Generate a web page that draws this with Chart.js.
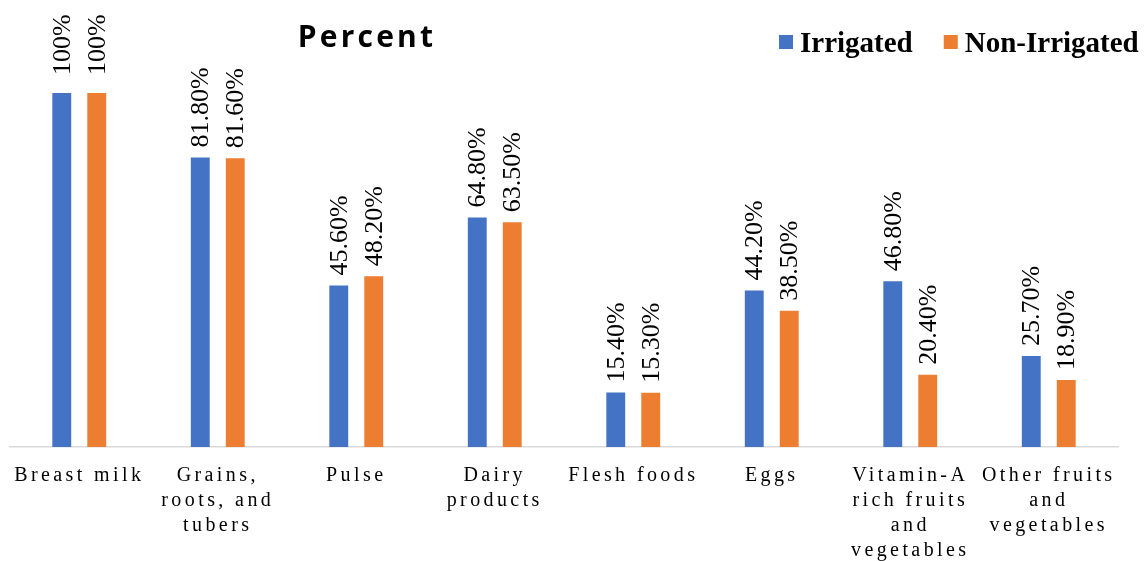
<!DOCTYPE html>
<html>
<head>
<meta charset="utf-8">
<script src="https://cdn.jsdelivr.net/npm/chart.js@4.4.0/dist/chart.umd.min.js"></script>
<style>
  html, body { margin: 0; padding: 0; background: #fff; }
  #wrap { width: 1146px; height: 561px; position: relative; }
</style>
</head>
<body>
<div id="wrap"><canvas id="chart"></canvas></div>
<script>
// food groups on the x axis (lines split as in the picture)
var categories = [
  ['Breast milk'],
  ['Grains,', 'roots, and', 'tubers'],
  ['Pulse'],
  ['Dairy', 'products'],
  ['Flesh foods'],
  ['Eggs'],
  ['Vitamin-A', 'rich fruits', 'and', 'vegetables'],
  ['Other fruits', 'and', 'vegetables'],
];

var irrigated = [100, 81.8, 45.6, 64.8, 15.4, 44.2, 46.8, 25.7];
var nonIrrigated = [100, 81.6, 48.2, 63.5, 15.3, 38.5, 20.4, 18.9];

var seriesNames = ['Irrigated', 'Non-Irrigated'];
var seriesColors = ['#4472C4', '#ED7D31'];

function fmt(v) {
  return v === 100 ? '100%' : v.toFixed(2) + '%';
}

// letter spacing for the axis labels, values + title + legend drawn after
var extras = {
  id: 'extras',
  beforeDraw: function (chart) {
    chart.ctx.letterSpacing = '3.4px';
  },
  beforeDatasetsDraw: function (chart) {
    chart.ctx.letterSpacing = '0px';
  },
  afterDatasetsDraw: function (chart) {
    var ctx = chart.ctx;
    ctx.save();
    ctx.letterSpacing = '0px';
    ctx.font = '26px "Liberation Serif"';
    ctx.fillStyle = '#000';
    ctx.textAlign = 'left';
    ctx.textBaseline = 'middle';
    chart.data.datasets.forEach(function (ds, i) {
      chart.getDatasetMeta(i).data.forEach(function (bar, j) {
        var gap = ds.data[j] === 100 ? 18 : 10;
        ctx.save();
        ctx.translate(bar.x, bar.y - gap);
        ctx.rotate(-Math.PI / 2);
        ctx.fillText(fmt(ds.data[j]), 0, 1);
        ctx.restore();
      });
    });
    ctx.restore();
  },
  afterDraw: function (chart) {
    var ctx = chart.ctx;
    ctx.save();
    // title
    ctx.letterSpacing = '3.2px';
    ctx.font = 'bold 30px "Open Sans"';
    ctx.fillStyle = '#000';
    ctx.textAlign = 'center';
    ctx.textBaseline = 'alphabetic';
    ctx.fillText('Percent', 367, 47);
    // legend
    ctx.letterSpacing = '0px';
    ctx.font = 'bold 29px "Liberation Serif"';
    ctx.textAlign = 'left';
    var x = 779;
    seriesNames.forEach(function (name, i) {
      ctx.fillStyle = seriesColors[i];
      ctx.fillRect(x, 35, 14, 14);
      ctx.fillStyle = '#000';
      ctx.fillText(name, x + 21, 52);
      x += 21 + ctx.measureText(name).width + 31;
    });
    ctx.restore();
  },
};

var ctx = document.getElementById('chart').getContext('2d');
var myChart = new Chart(ctx, {
  type: 'bar',
  data: {
    labels: categories,
    datasets: [
      {
        label: seriesNames[0],
        data: irrigated,
        backgroundColor: seriesColors[0],
        categoryPercentage: 0.505,
        barPercentage: 0.54,
      },
      {
        label: seriesNames[1],
        data: nonIrrigated,
        backgroundColor: seriesColors[1],
        categoryPercentage: 0.505,
        barPercentage: 0.54,
      },
    ],
  },
  options: {
    responsive: true,
    maintainAspectRatio: false,
    animation: false,
    layout: { padding: { left: 10, right: 28, top: 93, bottom: 0 } },
    plugins: {
      legend: { display: false },
      title: { display: false },
      tooltip: { enabled: false },
    },
    scales: {
      x: {
        grid: { display: false },
        border: { display: true, color: '#D9D9D9', width: 1.5 },
        ticks: {
          color: '#000',
          padding: 8,
          maxRotation: 0,
          minRotation: 0,
          autoSkip: false,
          font: { family: '"Liberation Serif"', size: 20, lineHeight: 1.25 },
        },
        afterFit: function (scale) {
          scale.height = 114;
        },
      },
      y: {
        display: false,
        min: 0,
        max: 100,
      },
    },
  },
  plugins: [extras],
});
</script>
</body>
</html>
